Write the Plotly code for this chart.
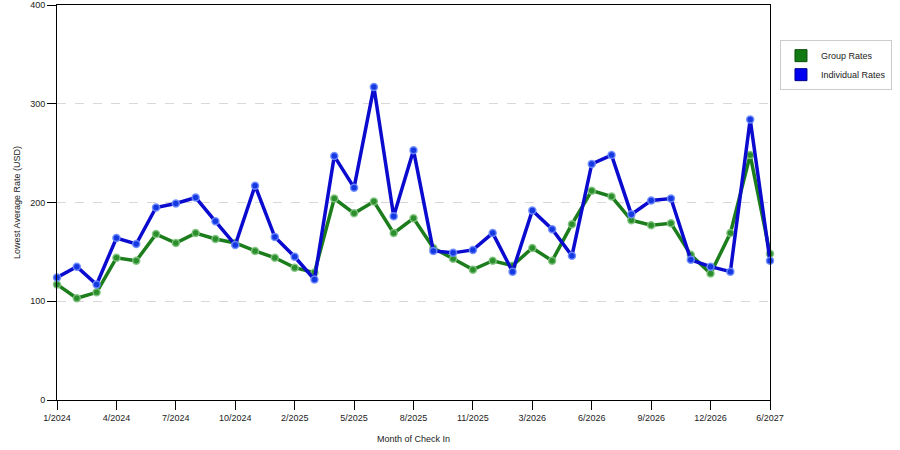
import plotly.graph_objects as go

months = ["1/2024", "2/2024", "3/2024", "4/2024", "5/2024", "6/2024", "7/2024", "8/2024",
          "9/2024", "10/2024", "11/2024", "1/2025", "2/2025", "3/2025", "4/2025", "5/2025",
          "6/2025", "7/2025", "8/2025", "9/2025", "10/2025", "11/2025", "12/2025", "2/2026",
          "3/2026", "4/2026", "5/2026", "6/2026", "7/2026", "8/2026", "9/2026", "10/2026",
          "11/2026", "12/2026", "2/2027", "4/2027", "6/2027"]

group_rates = [117, 103, 109, 144, 141, 168, 159, 169, 163, 159, 151, 144, 134, 129,
               204, 189, 201, 169, 184, 154, 143, 132, 141, 136, 154, 141, 178, 212,
               206, 182, 177, 179, 147, 128, 169, 248, 148]

individual_rates = [124, 135, 117, 164, 158, 195, 199, 205, 181, 157, 217, 165, 145, 122,
                    247, 215, 317, 186, 253, 151, 149, 152, 169, 130, 192, 173, 146, 239,
                    248, 188, 202, 204, 142, 135, 130, 284, 141]

tick_labels = ["1/2024", "4/2024", "7/2024", "10/2024", "2/2025", "5/2025", "8/2025",
               "11/2025", "3/2026", "6/2026", "9/2026", "12/2026", "6/2027"]

GREEN_LINE = "#1c7d1c"
GREEN_MARK = "#2b8f2b"
BLUE_LINE = "#0b0bcf"
BLUE_MARK = "#1638e0"
FONT = "Liberation Sans, Arial, sans-serif"

fig = go.Figure()

fig.add_trace(go.Scatter(
    x=months, y=group_rates, mode="lines+markers", name="Group Rates",
    line=dict(color=GREEN_LINE, width=3.5),
    marker=dict(size=7, color=GREEN_MARK, line=dict(color="rgba(130,195,130,0.9)", width=1.5)),
    cliponaxis=False, showlegend=False))

fig.add_trace(go.Scatter(
    x=months, y=individual_rates, mode="lines+markers", name="Individual Rates",
    line=dict(color=BLUE_LINE, width=3.5),
    marker=dict(size=7, color=BLUE_MARK, line=dict(color="rgba(110,140,255,0.9)", width=1.5)),
    cliponaxis=False, showlegend=False))

# legend-only square swatches
fig.add_trace(go.Scatter(x=[None], y=[None], mode="markers", name="Group Rates",
                         marker=dict(symbol="square", size=12, color="#127a12",
                                     line=dict(color="#0b4f0b", width=1))))
fig.add_trace(go.Scatter(x=[None], y=[None], mode="markers", name="Individual Rates",
                         marker=dict(symbol="square", size=12, color="#0000f0",
                                     line=dict(color="#00008a", width=1))))

fig.update_layout(
    width=900, height=450,
    margin=dict(l=57, r=130, t=5, b=50, autoexpand=False),
    paper_bgcolor="white", plot_bgcolor="white",
    font=dict(family=FONT, size=9, color="#222"),
    legend=dict(x=1.014, y=0.911, xanchor="left", yanchor="top",
                bgcolor="white", bordercolor="#cccccc", borderwidth=1,
                font=dict(family=FONT, size=9, color="#222"),
                itemwidth=30, tracegroupgap=4),
    xaxis=dict(
        type="category", categoryorder="array", categoryarray=months,
        range=[0, len(months) - 1],
        tickmode="array", tickvals=tick_labels, ticktext=tick_labels,
        ticks="outside", ticklen=9, tickcolor="#000", tickwidth=1,
        showline=True, linecolor="#000", linewidth=1, mirror=True,
        showgrid=False, zeroline=False, automargin=False,
        title=dict(text="Month of Check In", font=dict(family=FONT, size=9, color="#222"), standoff=13),
        tickfont=dict(family=FONT, size=9, color="#222"),
    ),
    yaxis=dict(
        range=[0, 400], tickmode="array", tickvals=[0, 100, 200, 300, 400],
        ticks="outside", ticklen=9, tickcolor="#000", tickwidth=1,
        showline=True, linecolor="#000", linewidth=1, mirror=True,
        showgrid=True, gridcolor="#d8d8d8", griddash="dash", gridwidth=1,
        zeroline=False, automargin=False,
        title=dict(text="Lowest Average Rate (USD)", font=dict(family=FONT, size=9, color="#222"), standoff=8),
        tickfont=dict(family=FONT, size=9, color="#222"),
    ),
)

fig.write_html("out.html", config={"displayModeBar": False},
               post_script="document.body.style.margin='0';")
